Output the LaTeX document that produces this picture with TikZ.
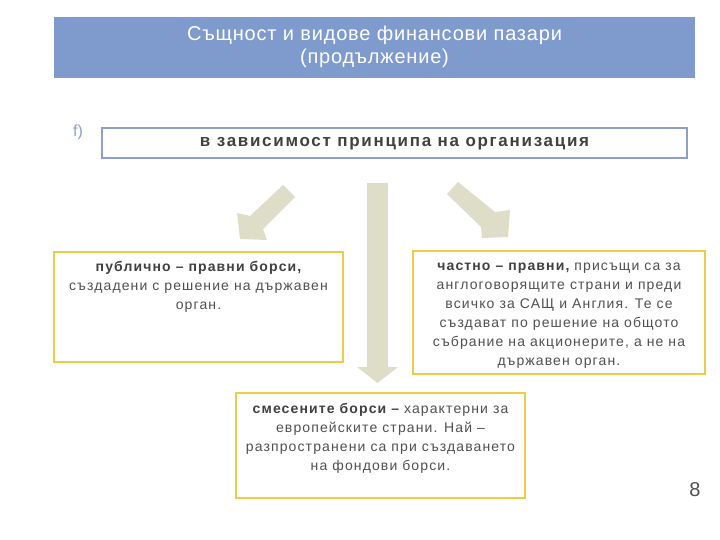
\documentclass[tikz,border=0pt]{standalone}
\usepackage{fontspec}
\setmainfont{Liberation Sans}
\definecolor{titlebg}{RGB}{127,155,205}
\definecolor{topborder}{RGB}{140,160,200}
\definecolor{fcol}{RGB}{140,160,200}
\definecolor{gold}{RGB}{238,204,72}
\definecolor{khaki}{RGB}{222,222,200}
\definecolor{txt}{RGB}{64,64,64}
\definecolor{txtl}{RGB}{80,80,80}
\tikzset{
  goldbox/.style={draw=gold, line width=2.2pt, fill=white},
  boxtext/.style={align=center, text=txtl, font=\fontsize{14}{19}\selectfont\addfontfeatures{LetterSpace=8}},
  bigarrow/.style={fill=khaki, draw=none},
}
\begin{document}
\begin{tikzpicture}[x=1pt,y=-1pt]
\useasboundingbox (0,0) rectangle (720,540);
% title
\fill[titlebg] (54,17) rectangle (695,78);
\node[text=white, align=center, font=\fontsize{20}{23}\selectfont\addfontfeatures{LetterSpace=4}] (title) at (374.5,47) {Същност и видове финансови пазари\\(продължение)};
% f)
\node[text=fcol, font=\fontsize{16}{18}\selectfont] (f) at (78,132) {f)};
% principle box
\draw[topborder, line width=1.6pt, fill=white] (102,128) rectangle (687,158);
\node[text=txt, font=\fontsize{17}{20}\selectfont\bfseries\addfontfeatures{LetterSpace=10}] (princ) at (394.5,144) {в зависимост принципа на организация};
% arrows
\fill[bigarrow] (283,185) -- (295,197) -- (263,229) -- (267,240) -- (240,239) -- (237,213) -- (250,216) -- cycle;
\fill[bigarrow] (367,183) rectangle (388,367);
\fill[bigarrow] (357,367) -- (398,367) -- (377.5,383) -- cycle;
\fill[bigarrow] (458,182) -- (447,194) -- (481,227) -- (482,238) -- (508,237) -- (510,210) -- (495,212) -- cycle;
% boxes
\draw[goldbox] (54,252) rectangle (343,362);
\node[boxtext] (pub) at (198.5,287) {\textbf{\color{txt}публично – правни борси,}\\създадени с решение на държавен\\орган.};
\draw[goldbox] (413,251) rectangle (705,374);
\node[boxtext] (priv) at (559,315.5) {\textbf{\color{txt}частно – правни,} присъщи са за\\англоговорящите страни и преди\\всичко за САЩ и Англия. Те се\\създават по решение на общото\\събрание на акционерите, а не на\\държавен орган.};
\draw[goldbox] (236,393) rectangle (525,498);
\node[boxtext] (mix) at (380.5,438) {\textbf{\color{txt}смесените борси –} характерни за\\европейските страни. Най –\\разпространени са при създаването\\на фондови борси.};
% page number
\node[text=txtl, font=\fontsize{20}{22}\selectfont] (pg) at (695,490) {8};
\end{tikzpicture}
\end{document}
